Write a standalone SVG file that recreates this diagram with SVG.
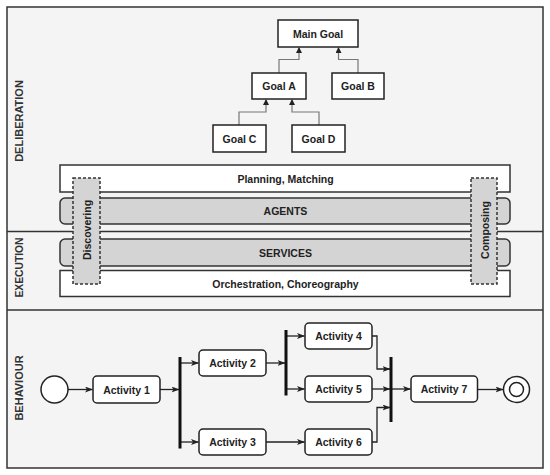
<svg xmlns="http://www.w3.org/2000/svg" width="550" height="475" viewBox="0 0 550 475">
<style>
text{font-family:"Liberation Sans",Arial,sans-serif;fill:#222}
.lbl{font-size:10.5px;font-weight:bold;text-anchor:middle;dominant-baseline:central}
.sec{font-size:11px;font-weight:bold;text-anchor:middle;dominant-baseline:central;fill:#333}
.goal{fill:#fff;stroke:#222;stroke-width:1.5}
.act{fill:#fff;stroke:#222;stroke-width:1.5}
.band{fill:#fff;stroke:#333;stroke-width:1.5}
.gband{fill:#d4d4d4;stroke:#333;stroke-width:1.5}
.dash{fill:#d4d4d4;stroke:#333;stroke-width:1.5;stroke-dasharray:3,2}
.gc{fill:none;stroke:#777;stroke-width:1.2}
.ac{fill:none;stroke:#222;stroke-width:1.3}
.bar{stroke:#111;stroke-width:3}
</style>
<defs>
<marker id="ga" markerWidth="6" markerHeight="6" refX="5" refY="3" orient="auto" markerUnits="userSpaceOnUse">
<path d="M0,0 L6,3 L0,6 z" fill="#222"/>
</marker>
<marker id="aa" markerWidth="8" markerHeight="6" refX="7.5" refY="3" orient="auto" markerUnits="userSpaceOnUse">
<path d="M0,0 L8,3 L0,6 L2,3 z" fill="#222"/>
</marker>
</defs>
<g id="frame">
<rect x="7" y="7" width="536" height="461" fill="#f4f4f4" stroke="#333" stroke-width="1.5"/>
<line x1="7" y1="231.5" x2="543" y2="231.5" stroke="#333" stroke-width="1.5"/>
<line x1="7" y1="310" x2="543" y2="310" stroke="#333" stroke-width="1.5"/>
<text class="sec" transform="translate(19,121) rotate(-90)">DELIBERATION</text>
<text class="sec" transform="translate(19,267.5) rotate(-90)" textLength="60" lengthAdjust="spacingAndGlyphs">EXECUTION</text>
<text class="sec" transform="translate(19,388) rotate(-90)">BEHAVIOUR</text>
</g>
<g id="bands">
<g id="planning"><rect class="band" x="60" y="165" width="450" height="27"/><text class="lbl" x="285.5" y="179">Planning, Matching</text></g>
<g id="agents"><rect class="gband" x="60" y="198" width="450" height="26" rx="5"/><text class="lbl" x="285.5" y="211">AGENTS</text></g>
<g id="services"><rect class="gband" x="60" y="239" width="450" height="27" rx="5"/><text class="lbl" x="285.5" y="252.5">SERVICES</text></g>
<g id="orchestration"><rect class="band" x="60" y="270.5" width="450" height="26"/><text class="lbl" x="285.5" y="283.5">Orchestration, Choreography</text></g>
<g id="discovering"><rect class="dash" x="73" y="178" width="27" height="106"/><text class="lbl" transform="translate(87,230) rotate(-90)">Discovering</text></g>
<g id="composing"><rect class="dash" x="471" y="178" width="26" height="106"/><text class="lbl" transform="translate(484.5,230) rotate(-90)">Composing</text></g>
</g>
<g id="connectors">
<path class="gc" d="M279,73 V59.5 H299 V48" marker-end="url(#ga)"/>
<path class="gc" d="M358,73 V59.5 H338.5 V48" marker-end="url(#ga)"/>
<path class="gc" d="M239,125 V112 H266 V100" marker-end="url(#ga)"/>
<path class="gc" d="M319,125 V112 H292 V100" marker-end="url(#ga)"/>
<path class="ac" d="M68,389.5 H92.5" marker-end="url(#aa)"/>
<path class="ac" d="M160,389.5 H179" marker-end="url(#aa)"/>
<path class="ac" d="M180,363 H198.5" marker-end="url(#aa)"/>
<path class="ac" d="M180,442 H198.5" marker-end="url(#aa)"/>
<path class="ac" d="M266,363 H285" marker-end="url(#aa)"/>
<path class="ac" d="M286,336 H304.5" marker-end="url(#aa)"/>
<path class="ac" d="M286,389 H304.5" marker-end="url(#aa)"/>
<path class="ac" d="M266,442 H304.5" marker-end="url(#aa)"/>
<path class="ac" d="M372,336 H377 V369 H390" marker-end="url(#aa)"/>
<path class="ac" d="M372,389 H390" marker-end="url(#aa)"/>
<path class="ac" d="M372,442 H377 V407.5 H390" marker-end="url(#aa)"/>
<path class="ac" d="M391,389 H410.5" marker-end="url(#aa)"/>
<path class="ac" d="M477.5,389.5 H503" marker-end="url(#aa)"/>
<line class="bar" x1="180" y1="357" x2="180" y2="448.5"/>
<line class="bar" x1="286" y1="330" x2="286" y2="395.5"/>
<line class="bar" x1="391" y1="357" x2="391" y2="422"/>
</g>
<g id="main-goal"><rect class="goal" x="278" y="20" width="80" height="27"/><text class="lbl" x="318" y="33.5">Main Goal</text></g>
<g id="goal-a"><rect class="goal" x="252" y="73" width="54" height="26"/><text class="lbl" x="279" y="86">Goal A</text></g>
<g id="goal-b"><rect class="goal" x="332" y="73" width="52" height="26"/><text class="lbl" x="358" y="86">Goal B</text></g>
<g id="goal-c"><rect class="goal" x="213" y="125" width="53" height="27"/><text class="lbl" x="239.5" y="138.5">Goal C</text></g>
<g id="goal-d"><rect class="goal" x="292" y="125" width="53" height="27"/><text class="lbl" x="318.5" y="138.5">Goal D</text></g>
<g id="start"><circle cx="54.5" cy="389.5" r="13.5" fill="#fff" stroke="#222" stroke-width="1.5"/></g>
<g id="activity-1"><rect class="act" x="93" y="376" width="67" height="27" rx="4"/><text class="lbl" x="126.5" y="389.5">Activity 1</text></g>
<g id="activity-2"><rect class="act" x="199" y="350" width="67" height="26" rx="4"/><text class="lbl" x="232.5" y="363">Activity 2</text></g>
<g id="activity-3"><rect class="act" x="199" y="429" width="67" height="26" rx="4"/><text class="lbl" x="232.5" y="442">Activity 3</text></g>
<g id="activity-4"><rect class="act" x="305" y="323" width="67" height="26" rx="4"/><text class="lbl" x="338.5" y="336">Activity 4</text></g>
<g id="activity-5"><rect class="act" x="305" y="376" width="67" height="26" rx="4"/><text class="lbl" x="338.5" y="389">Activity 5</text></g>
<g id="activity-6"><rect class="act" x="305" y="429" width="67" height="26" rx="4"/><text class="lbl" x="338.5" y="442">Activity 6</text></g>
<g id="activity-7"><rect class="act" x="411" y="376" width="66.5" height="26" rx="4"/><text class="lbl" x="444" y="389">Activity 7</text></g>
<g id="end"><circle cx="516.5" cy="389.5" r="13" fill="#fff" stroke="#222" stroke-width="1.5"/><circle cx="516.5" cy="389.5" r="7" fill="#fff" stroke="#222" stroke-width="1.5"/></g>
</svg>
